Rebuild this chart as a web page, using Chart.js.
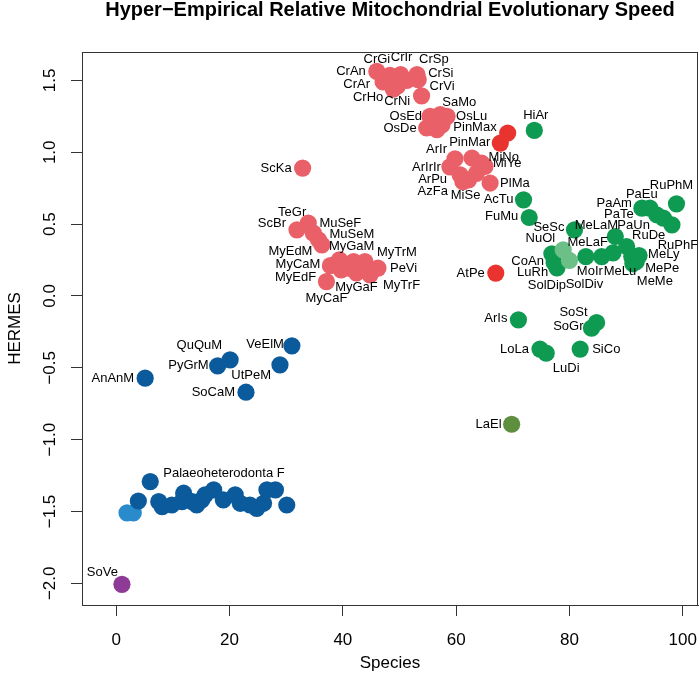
<!DOCTYPE html>
<html>
<head>
<meta charset="utf-8">
<script src="https://cdn.jsdelivr.net/npm/chart.js@4"></script>
<style>
  html, body { margin: 0; padding: 0; background: #fff; }
  canvas { display: block; }
</style>
</head>
<body>
<canvas id="chart" width="700" height="691"></canvas>
<script>
// ===== Data =====
const species = ['SoVe',
  '', '', '', 'AnAnM', 'Palaeoheterodonta F', '', '', '', '', '', '', '', '', '', '', 'PyGrM', '', 'QuQuM', '', '', 'SoCaM', '', '', '', '', '', 'UtPeM', '', 'VeElM',
  'ScBr', 'ScKa', 'TeGr', 'MuSeF', 'MuSeM', 'MyGaM', 'MyCaF', 'MyCaM', 'MyEdM', 'MyEdF', '', '', 'MyGaF', '', 'MyTrM', 'MyTrF', 'PeVi',
  'CrAn', 'CrAr', 'CrGi', 'CrHo', 'CrNi', 'CrIr', '', 'CrSp', 'CrSi', 'CrVi',
  'OsDe', 'OsEd', '', 'SaMo', '', 'OsLu',
  'ArIrIr', 'ArIr', 'ArPu', 'AzFa', 'MiSe', '', '', 'MiNo', 'MiYe', 'PlMa',
  'AtPe', 'PinMar', 'PinMax',
  'LaEl', 'ArIs', 'AcTu', 'FuMu', 'HiAr', 'LoLa', 'LuDi', 'CoAn', 'LuRh', 'SolDip', 'NuOl', 'SolDiv', 'SeSc', 'SiCo', 'MoIr', 'SoGr', 'SoSt',
  'MeLaF', 'MeLu', 'MeLaM', 'PaUn', 'RuDe', 'MeMe', 'MePe', 'MeLy', 'PaAm', 'PaEu', 'PaTe', '', 'RuPhF', 'RuPhM'];

const speciesIndex = [1.0,
  1.9, 3.0, 3.9, 5.1, 6.0, 7.5, 8.1, 9.8, 11.6, 11.9, 13.4, 14.2, 15.1, 15.7, 17.2, 17.9, 18.9, 20.1, 21.0, 21.9, 22.9, 23.6, 24.8, 26.0, 26.6, 28.1, 28.9, 30.1, 31.0,
  31.9, 32.9, 33.9, 34.8, 35.7, 36.3, 37.1, 37.8, 39.4, 39.7, 41.0, 41.9, 42.4, 43.1, 43.9, 44.8, 46.2,
  46.0, 47.1, 48.3, 48.9, 49.6, 50.2, 51.3, 53.1, 53.3, 53.9,
  54.8, 55.4, 56.6, 57.2, 57.5, 58.4,
  58.9, 59.8, 60.7, 61.2, 62.2, 62.8, 63.6, 64.5, 65.1, 66.0,
  67.0, 67.8, 69.1,
  69.8, 71.0, 71.9, 72.9, 73.8, 74.8, 75.9, 76.9, 77.3, 77.8, 78.9, 80.0, 80.9, 81.9, 82.9, 83.9, 84.8,
  85.7, 87.7, 88.1, 90.1, 91.0, 91.2, 91.8, 92.3, 92.8, 94.2, 95.4, 96.6, 98.1, 98.9];

const hermes = [-2.007,
  -1.51, -1.51, -1.427, -0.572, -1.292, -1.432, -1.467, -1.455, -1.432, -1.373, -1.432, -1.455, -1.42, -1.385, -1.35, -0.487, -1.42, -0.445, -1.385, -1.443, -0.670, -1.455, -1.478, -1.443, -1.35, -1.35, -0.480, -1.455, -0.347,
  0.460, 0.890, 0.507, 0.437, 0.391, 0.356, 0.100, 0.211, 0.251, 0.182, 0.194, 0.240, 0.161, 0.180, 0.240, 0.147, 0.194,
  1.563, 1.490, 1.535, 1.440, 1.460, 1.540, 1.500, 1.540, 1.505, 1.393,
  1.169, 1.250, 1.157, 1.262, 1.190, 1.250,
  0.899, 0.955, 0.843, 0.795, 0.808, 0.960, 0.853, 0.925, 0.902, 0.786,
  0.159, 1.064, 1.134,
  -0.893, -0.166, 0.669, 0.546, 1.152, -0.370, -0.398, 0.293, 0.231, 0.196, 0.321, 0.247, 0.460, -0.370, 0.274, -0.224, -0.185,
  0.274, 0.300, 0.414, 0.344, 0.274, 0.224, 0.238, 0.281, 0.611, 0.611, 0.565, 0.542, 0.495, 0.641];

// clade of each point: P purple, L light blue, B blue, R red, RR bright red, G green, LG light green, O olive
const clade = ['P',
  'L', 'L', 'B', 'B', 'B', 'B', 'B', 'B', 'B', 'B', 'B', 'B', 'B', 'B', 'B', 'B', 'B', 'B', 'B', 'B', 'B', 'B', 'B', 'B', 'B', 'B', 'B', 'B', 'B',
  'R', 'R', 'R', 'R', 'R', 'R', 'R', 'R', 'R', 'R', 'R', 'R', 'R', 'R', 'R', 'R', 'R',
  'R', 'R', 'R', 'R', 'R', 'R', 'R', 'R', 'R', 'R',
  'R', 'R', 'R', 'R', 'R', 'R',
  'R', 'R', 'R', 'R', 'R', 'R', 'R', 'R', 'R', 'R',
  'RR', 'RR', 'RR',
  'O', 'G', 'G', 'G', 'G', 'G', 'G', 'G', 'G', 'G', 'LG', 'LG', 'G', 'G', 'G', 'G', 'G',
  'G', 'G', 'G', 'G', 'G', 'G', 'G', 'G', 'G', 'G', 'G', 'G', 'G', 'G'];

const xTicks = [0, 20, 40, 60, 80, 100];
const yTicks = [-2.0, -1.5, -1.0, -0.5, 0.0, 0.5, 1.0, 1.5];

// ===== Styles =====
const cladeColors = {
  P: '#8e3a97', L: '#2a8bcc', B: '#0b5a9c', R: '#ea6068', RR: '#e8332f',
  G: '#0f9a52', LG: '#6cbf86', O: '#5e8f3f'
};

// label offsets in px from the point centre: [dx, dy, align]
// align 'r' = text ends at dx, 'l' = text starts at dx, 'c' = centred at dx
const labelPos = {
  'SoVe': [-4, -12, 'r'], 'AnAnM': [-11, 0, 'r'], 'Palaeoheterodonta F': [13, -8, 'l'],
  'PyGrM': [-9, -1, 'r'], 'QuQuM': [-8, -14, 'r'], 'SoCaM': [-11, 0, 'r'], 'UtPeM': [-9, 11, 'r'], 'VeElM': [-8, -1, 'r'],
  'ScBr': [-11, -6, 'r'], 'ScKa': [-11, 0, 'r'], 'TeGr': [-2, -11, 'r'], 'MuSeF': [6, -10, 'l'], 'MuSeM': [11, -5, 'l'],
  'MyGaM': [7, 2, 'l'], 'MyCaF': [0, 17, 'c'], 'MyCaM': [-10, -1, 'r'], 'MyEdM': [-27, -8, 'r'], 'MyEdF': [-25, 8, 'r'],
  'MyGaF': [0, 15, 'c'], 'MyTrM': [12, -9, 'l'], 'MyTrF': [13, 11, 'l'], 'PeVi': [12, 0, 'l'],
  'CrAn': [-11, 0, 'r'], 'CrAr': [-13, 3, 'r'], 'CrGi': [-13, -16, 'c'], 'CrHo': [-10, 8, 'r'], 'CrNi': [0, 15, 'c'],
  'CrIr': [1, -17, 'c'], 'CrSp': [2, -15, 'l'], 'CrSi': [10, -6, 'l'], 'CrVi': [8, -9, 'l'],
  'OsDe': [-10, 0, 'r'], 'OsEd': [-8, 0, 'r'], 'SaMo': [2, -12, 'l'], 'OsLu': [9, 0, 'l'],
  'ArIrIr': [-9, 1, 'r'], 'ArIr': [-8, -9, 'r'], 'ArPu': [-13, 5, 'r'], 'AzFa': [-15, 10, 'r'], 'MiSe': [-3, 16, 'c'],
  'MiNo': [7, -6, 'l'], 'MiYe': [8, -3, 'l'], 'PlMa': [10, 0, 'l'],
  'AtPe': [-11, 0, 'r'], 'PinMar': [-10, -1, 'r'], 'PinMax': [-11, -6, 'r'],
  'LaEl': [-10, 0, 'r'], 'ArIs': [-11, -1, 'r'], 'AcTu': [-10, 0, 'r'], 'FuMu': [-11, -1, 'r'], 'HiAr': [1.5, -15, 'c'],
  'LoLa': [-11, 0, 'r'], 'LuDi': [20, 15, 'c'], 'CoAn': [-8, 8, 'r'], 'LuRh': [-6, 10, 'r'], 'SolDip': [-10, 18, 'c'],
  'NuOl': [-8, -11, 'r'], 'SolDiv': [15, 24, 'c'], 'SeSc': [-10, -2, 'r'], 'SiCo': [12, 0, 'l'], 'MoIr': [4, 15, 'c'],
  'SoGr': [-8, -2, 'r'], 'SoSt': [-9, -10, 'r'], 'MeLaF': [-14, -14, 'c'], 'MeLu': [7, 19, 'c'], 'MeLaM': [-19, -11, 'c'],
  'PaUn': [7, -21, 'c'], 'RuDe': [17, -21, 'c'], 'MeMe': [22, 18, 'c'], 'MePe': [9, 7, 'l'], 'MeLy': [9, -1, 'l'],
  'PaAm': [-10, -5, 'r'], 'PaEu': [-8, -14, 'c'], 'PaTe': [-23, 0, 'r'], 'RuPhF': [6, 21, 'c'], 'RuPhM': [-5, -18, 'c']
};

const FONT = "'Liberation Sans', Arial, Helvetica, sans-serif";
const AXIS = '#333333';

// ===== Plugins =====
const boxPlugin = {
  id: 'box',
  afterDraw(chart){
    const a = chart.chartArea, ctx = chart.ctx;
    ctx.save();
    ctx.strokeStyle = AXIS;
    ctx.lineWidth = 1;
    ctx.strokeRect(Math.round(a.left) + 0.5, Math.round(a.top) + 0.5, Math.round(a.right - a.left) - 1, Math.round(a.bottom - a.top));
    ctx.restore();
  }
};

const labelPlugin = {
  id: 'pointLabels',
  afterDatasetsDraw(chart){
    const ctx = chart.ctx;
    const meta = chart.getDatasetMeta(0);
    ctx.save();
    ctx.font = '13px ' + FONT;
    ctx.fillStyle = '#000';
    ctx.textBaseline = 'middle';
    meta.data.forEach((pt, i) => {
      const name = species[i];
      if(!name) return;
      const off = labelPos[name] || [-10, 0, 'r'];
      ctx.textAlign = off[2] === 'l' ? 'left' : (off[2] === 'c' ? 'center' : 'right');
      ctx.fillText(name, pt.x + off[0], pt.y + off[1]);
    });
    ctx.restore();
  }
};

// ===== Chart =====
const points = speciesIndex.map((x, i) => ({ x: x, y: hermes[i] }));

new Chart(document.getElementById('chart'), {
  type: 'scatter',
  data: {
    datasets: [{
      data: points,
      backgroundColor: clade.map(c => cladeColors[c]),
      borderWidth: 0,
      pointRadius: 8.6,
      pointHoverRadius: 8.6
    }]
  },
  options: {
    responsive: false,
    animation: false,
    devicePixelRatio: 1,
    layout: { autoPadding: false, padding: { left: 0, right: 2, top: 0, bottom: 0 } },
    plugins: {
      legend: { display: false },
      tooltip: { enabled: false },
      title: {
        display: true,
        fullSize: false,
        text: 'Hyper−Empirical Relative Mitochondrial Evolutionary Speed',
        color: '#000',
        font: { family: FONT, size: 20, weight: 'bold', lineHeight: 1 },
        padding: { top: 0, bottom: 32 }
      }
    },
    scales: {
      x: {
        type: 'linear',
        min: -6.05, max: 102.7,
        afterBuildTicks(s){ s.ticks = xTicks.map(v => ({ value: v })); },
        afterFit(s){ s.height = 86; s.paddingLeft = 0; s.paddingRight = 0; },
        grid: { drawOnChartArea: false, drawTicks: true, tickLength: 11, color: AXIS },
        border: { display: true, color: AXIS, width: 1 },
        ticks: { color: '#000', font: { family: FONT, size: 17 }, padding: 14, maxRotation: 0 },
        title: { display: true, text: 'Species', color: '#000', font: { family: FONT, size: 17 }, padding: { bottom: 17 } }
      },
      y: {
        type: 'linear',
        min: -2.151, max: 1.698,
        afterBuildTicks(s){ s.ticks = yTicks.map(v => ({ value: v })); },
        afterFit(s){ s.width = 82; s.paddingTop = 0; s.paddingBottom = 0; },
        grid: { drawOnChartArea: false, drawTicks: true, tickLength: 11, color: AXIS },
        border: { display: true, color: AXIS, width: 1 },
        ticks: {
          color: '#000', font: { family: FONT, size: 17 }, padding: 4,
          minRotation: 90, maxRotation: 90, crossAlign: 'center',
          callback: v => v.toFixed(1).replace('-', '−')
        },
        title: { display: true, text: 'HERMES', color: '#000', font: { family: FONT, size: 17 }, padding: { top: 5 } }
      }
    }
  },
  plugins: [boxPlugin, labelPlugin]
});
</script>
</body>
</html>
